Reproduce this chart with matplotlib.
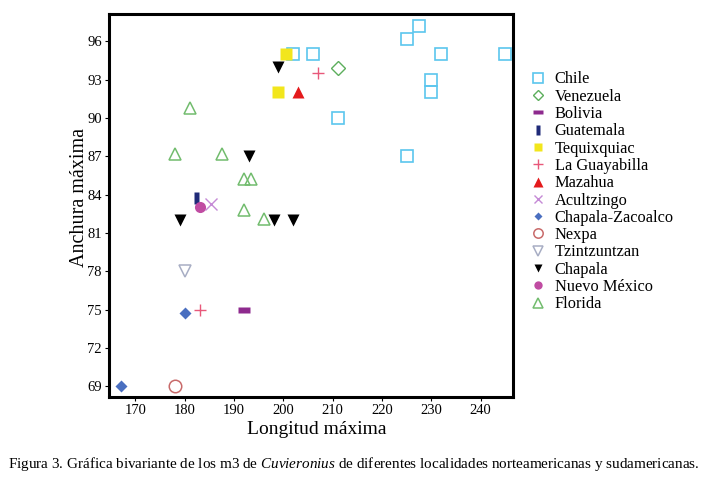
import numpy as np
import matplotlib
matplotlib.use("Agg")
import matplotlib.pyplot as plt

plt.rcParams['font.family'] = ['Liberation Serif', 'DejaVu Serif']
plt.rcParams['mathtext.fontset'] = 'custom'
plt.rcParams['mathtext.rm'] = 'Liberation Serif'
plt.rcParams['mathtext.it'] = 'Liberation Serif:italic'

# valores
chile_x = [202, 206, 225, 227.5, 232, 245, 230, 230, 211, 225]
chile_y = [95, 95, 96.2, 97.2, 95, 95, 93, 92, 90, 87]
venezuela_x = [211]
venezuela_y = [93.9]
bolivia_x = [192]
bolivia_y = [75]
guatemala_x = [182.2]
guatemala_y = [83.7]
tequix_x = [200.6, 199]
tequix_y = [95, 92]
guayabilla_x = [207, 183]
guayabilla_y = [93.5, 75]
mazahua_x = [203]
mazahua_y = [92]
acultzingo_x = [185.3]
acultzingo_y = [83.3]
zacoalco_x = [180, 167]
zacoalco_y = [74.7, 69]
nexpa_x = [178]
nexpa_y = [69]
tzintzuntzan_x = [180]
tzintzuntzan_y = [78]
chapala_x = [199, 193, 179, 198, 202]
chapala_y = [94, 87, 82, 82, 82]
nuevomex_x = [183]
nuevomex_y = [83]
florida_x = [181, 178, 187.5, 192, 193.5, 192, 196]
florida_y = [90.8, 87.2, 87.2, 85.2, 85.2, 82.8, 82.1]

hbar = [(-1, -0.45), (1, -0.45), (1, 0.45), (-1, 0.45), (-1, -0.45)]
vbar = [(-0.4, -1), (0.4, -1), (0.4, 1), (-0.4, 1), (-0.4, -1)]

fig = plt.figure(figsize=(7.02, 4.79), dpi=100)
ax = fig.add_axes([0.155, 0.171, 0.576, 0.800])

ax.plot(chile_x, chile_y, 's', ls='none', ms=9, mfc='none', mec='#5bc6ee', mew=1.2, label='Chile')
ax.plot(venezuela_x, venezuela_y, 'D', ls='none', ms=7, mfc='none', mec='#5cae5c', mew=1.0, label='Venezuela')
ax.plot(bolivia_x, bolivia_y, marker=hbar, ls='none', ms=9, color='#8e2a8e', mec='none', label='Bolivia')
ax.plot(guatemala_x, guatemala_y, marker=vbar, ls='none', ms=9, color='#1f2a78', mec='none', label='Guatemala')
ax.plot(tequix_x, tequix_y, 's', ls='none', ms=8, color='#f2e61c', mec='none', label='Tequixquiac')
ax.plot(guayabilla_x, guayabilla_y, '+', ls='none', ms=9, color='#e8587a', mew=1.0, label='La Guayabilla')
ax.plot(mazahua_x, mazahua_y, '^', ls='none', ms=9, color='#e41a1c', mec='none', label='Mazahua')
ax.plot(acultzingo_x, acultzingo_y, 'x', ls='none', ms=8, color='#c58ad6', mew=1.0, label='Acultzingo')
ax.plot(zacoalco_x, zacoalco_y, 'D', ls='none', ms=6, color='#4a6fc0', mec='none', label='Chapala-Zacoalco')
ax.plot(nexpa_x, nexpa_y, 'o', ls='none', ms=9, mfc='none', mec='#c86a6a', mew=1.1, label='Nexpa')
ax.plot(tzintzuntzan_x, tzintzuntzan_y, 'v', ls='none', ms=9, mfc='none', mec='#a8aec4', mew=1.1, label='Tzintzuntzan')
ax.plot(chapala_x, chapala_y, 'v', ls='none', ms=8, color='black', mec='none', label='Chapala')
ax.plot(nuevomex_x, nuevomex_y, 'o', ls='none', ms=8, color='#c04ca2', mec='none', label='Nuevo México')
ax.plot(florida_x, florida_y, '^', ls='none', ms=9, mfc='none', mec='#72bc6e', mew=1.1, label='Florida')

ax.set_xlim(164.6, 246.6)
ax.set_ylim(68.15, 98.15)
ax.set_xticks(np.arange(170, 241, 10))
ax.set_yticks(np.arange(69, 97, 3))
ax.tick_params(labelsize=10.5, length=3, width=0.8, direction='out', pad=2)
for s in ax.spines.values():
    s.set_linewidth(2.2)

ax.set_xlabel("Longitud máxima", fontsize=14)
ax.set_ylabel("Anchura máxima", fontsize=14.5)
ax.xaxis.set_label_coords(0.515, -0.062)
ax.yaxis.set_label_coords(-0.05, 0.52)

fig.legend(loc='upper left', bbox_to_anchor=(0.754, 0.851), frameon=False,
           fontsize=11.8, labelspacing=0.08, handlelength=1.0, handletextpad=0.55,
           borderpad=0, borderaxespad=0, markerscale=0.75)

fig.text(0.012, 0.024, "Figura 3. Gráfica bivariante de los m3 de $\\it{Cuvieronius}$ de diferentes localidades norteamericanas y sudamericanas.",
         fontsize=10.9, ha='left', va='baseline')

fig.savefig("out.png", dpi=100)
